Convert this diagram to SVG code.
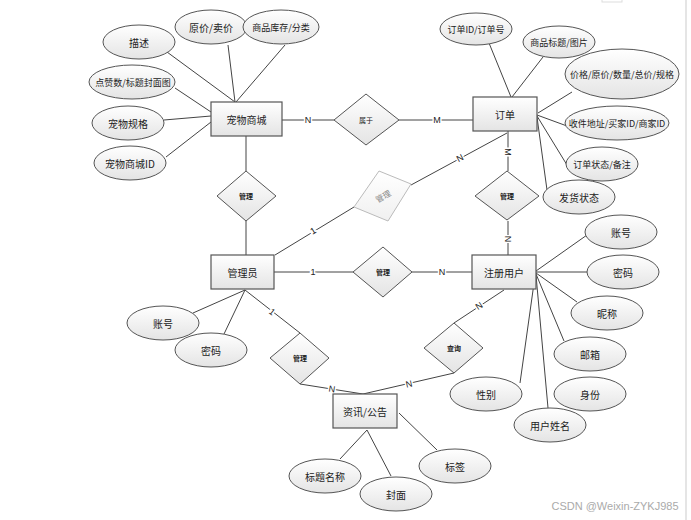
<svg xmlns="http://www.w3.org/2000/svg" width="691" height="520" viewBox="0 0 691 520">
<defs>
<linearGradient id="gb" x1="0" y1="0" x2="0" y2="1"><stop offset="0" stop-color="#ffffff"/><stop offset="1" stop-color="#e4e4e4"/></linearGradient>
<linearGradient id="gg" x1="0" y1="0" x2="0" y2="1"><stop offset="0" stop-color="#ffffff"/><stop offset="1" stop-color="#f0f0f0"/></linearGradient>
<style>
text{font-family:"Noto Sans CJK SC","Liberation Sans",sans-serif;fill:#222;text-anchor:middle;dominant-baseline:central}
.box{fill:url(#gb);stroke:#555;stroke-width:1.2}
.ell{fill:url(#gb);stroke:#555;stroke-width:1}
.dia{fill:url(#gb);stroke:#555;stroke-width:1}
.t{font-size:10px}
.a{font-size:10px}
.s{font-size:9px}
.d{font-size:7px;font-weight:bold}
.lbl{font-size:9px;font-family:"Liberation Sans",sans-serif;paint-order:stroke;stroke:#fff;stroke-width:3px}
#connectors line,#connectors polyline{stroke:#444;stroke-width:1;fill:none}
</style>
</defs>
<rect width="691" height="520" fill="#fff"/>
<line x1="686" y1="0" x2="686" y2="520" stroke="#ddd" stroke-width="1.5"/>
<rect x="602" y="-2" width="20" height="4" fill="none" stroke="#ddd"/>
<g id="connectors">
<line x1="167" y1="52" x2="235" y2="102"/>
<line x1="228" y1="45" x2="235" y2="102"/>
<line x1="285" y1="45" x2="236" y2="102"/>
<line x1="175" y1="88" x2="211" y2="112"/>
<line x1="164" y1="120" x2="211" y2="116"/>
<line x1="166" y1="157" x2="211" y2="122"/>
<line x1="282" y1="120" x2="334" y2="120"/>
<line x1="399" y1="120" x2="473" y2="120"/>
<line x1="489" y1="43" x2="511" y2="97"/>
<line x1="543" y1="57" x2="512" y2="97"/>
<line x1="572" y1="92" x2="538" y2="113"/>
<line x1="537" y1="115" x2="567" y2="126"/>
<line x1="537" y1="116" x2="567" y2="165"/>
<line x1="537" y1="117" x2="547" y2="190"/>
<line x1="508" y1="131" x2="508" y2="171"/>
<line x1="508" y1="221" x2="508" y2="255"/>
<line x1="507" y1="133" x2="411" y2="185"/>
<line x1="275" y1="255" x2="354" y2="207"/>
<line x1="246" y1="136" x2="246" y2="171"/>
<line x1="246" y1="221" x2="246" y2="255"/>
<line x1="274" y1="272" x2="353" y2="272"/>
<line x1="412" y1="272" x2="472" y2="272"/>
<line x1="193" y1="313" x2="245" y2="290"/>
<line x1="224" y1="334" x2="245" y2="290"/>
<line x1="245" y1="290" x2="300" y2="333"/>
<polyline points="300,384 363,394 454,373"/>
<line x1="504" y1="290" x2="454" y2="323"/>
<line x1="536" y1="271" x2="587" y2="235"/>
<line x1="536" y1="272" x2="587" y2="272"/>
<line x1="536" y1="273" x2="577" y2="302"/>
<line x1="536" y1="274" x2="564" y2="341"/>
<line x1="536" y1="275" x2="548" y2="408"/>
<line x1="535" y1="276" x2="520" y2="383"/>
<line x1="340" y1="459" x2="367" y2="430"/>
<line x1="391" y1="476" x2="367" y2="430"/>
<line x1="437" y1="450" x2="399" y2="413"/>
<text class="lbl" x="308" y="120">N</text>
<text class="lbl" x="437" y="120">M</text>
<text class="lbl" x="508" y="152" transform="rotate(90 508 152)">M</text>
<text class="lbl" x="508" y="239" transform="rotate(90 508 239)">N</text>
<text class="lbl" x="460" y="158" transform="rotate(-28 460 158)">N</text>
<text class="lbl" x="313" y="231" transform="rotate(-31 313 231)">1</text>
<text class="lbl" x="313" y="272">1</text>
<text class="lbl" x="442" y="272">N</text>
<text class="lbl" x="272" y="312" transform="rotate(38 272 312)">1</text>
<text class="lbl" x="332" y="389" transform="rotate(9 332 389)">N</text>
<text class="lbl" x="409" y="384" transform="rotate(-13 409 384)">N</text>
<text class="lbl" x="479" y="306" transform="rotate(-33 479 306)">N</text>
</g>
<g id="pet-mall"><rect class="box" x="211" y="102" width="71" height="34"/><text class="t" x="246.5" y="119">宠物商城</text></g>
<g id="order"><rect class="box" x="473" y="97" width="64" height="34"/><text class="t" x="505" y="114">订单</text></g>
<g id="admin"><rect class="box" x="211" y="255" width="63" height="34"/><text class="t" x="242.5" y="272">管理员</text></g>
<g id="user"><rect class="box" x="472" y="255" width="64" height="34"/><text class="t" x="504" y="272">注册用户</text></g>
<g id="news"><rect class="box" x="333" y="394" width="64" height="34"/><text class="t" x="365" y="411">资讯/公告</text></g>
<g id="rel-belong"><polygon class="dia" points="334,120 366,94 399,120 366,145"/><text class="d" style="font-weight:normal" x="366" y="120">属于</text></g>
<g id="rel-manage-mall"><polygon class="dia" points="217,196 246,171 276,196 246,221"/><text class="d" x="246" y="196">管理</text></g>
<g id="rel-manage-order"><polygon points="379,171 411,184 388,221 354,207" fill="url(#gg)" stroke="#bbb" stroke-width="1"/><text x="383" y="196" style="font-size:8px;fill:#888" transform="rotate(-30 383 196)">管理</text></g>
<g id="rel-manage-user"><polygon class="dia" points="353,272 383,247 412,272 383,297"/><text class="d" x="383" y="272">管理</text></g>
<g id="rel-order-user"><polygon class="dia" points="475,196 507,171 539,196 507,220"/><text class="d" x="507" y="196">管理</text></g>
<g id="rel-manage-news"><polygon class="dia" points="270,358 300,333 329,358 300,384"/><text class="d" x="300" y="358">管理</text></g>
<g id="rel-query"><polygon class="dia" points="424,348 454,323 483,348 454,373"/><text class="d" x="454" y="348">查询</text></g>
<g id="attr-desc"><ellipse class="ell" cx="139" cy="42" rx="36" ry="17"/><text class="a" x="139" y="42">描述</text></g>
<g id="attr-price"><ellipse class="ell" cx="211" cy="27" rx="36" ry="17"/><text class="a" x="211" y="27">原价/卖价</text></g>
<g id="attr-stock"><ellipse class="ell" cx="281" cy="27" rx="38" ry="17"/><text class="s" x="281" y="27">商品库存/分类</text></g>
<g id="attr-likes"><ellipse class="ell" cx="132" cy="82" rx="43" ry="17"/><text class="s" x="133" y="82">点赞数/标题封面图</text></g>
<g id="attr-spec"><ellipse class="ell" cx="128" cy="123" rx="36" ry="17"/><text class="a" x="128" y="123">宠物规格</text></g>
<g id="attr-mallid"><ellipse class="ell" cx="130" cy="163" rx="36" ry="17"/><text class="a" x="130" y="163">宠物商城ID</text></g>
<g id="attr-orderid"><ellipse class="ell" cx="476" cy="29" rx="36" ry="16"/><text class="s" x="476" y="29">订单ID/订单号</text></g>
<g id="attr-title"><ellipse class="ell" cx="559" cy="42" rx="36" ry="16"/><text class="s" x="559" y="42">商品标题/图片</text></g>
<g id="attr-prices"><ellipse class="ell" cx="622" cy="74" rx="57" ry="25"/><text class="s" x="622" y="74">价格/原价/数量/总价/规格</text></g>
<g id="attr-address"><ellipse class="ell" cx="617" cy="123" rx="52" ry="17"/><text class="s" x="617" y="123">收件地址/买家ID/商家ID</text></g>
<g id="attr-status"><ellipse class="ell" cx="602" cy="164" rx="36" ry="17"/><text class="s" x="602" y="164">订单状态/备注</text></g>
<g id="attr-ship"><ellipse class="ell" cx="579" cy="197" rx="36" ry="17"/><text class="a" x="579" y="197">发货状态</text></g>
<g id="attr-admin-acc"><ellipse class="ell" cx="163" cy="323" rx="36" ry="17"/><text class="a" x="163" y="323">账号</text></g>
<g id="attr-admin-pwd"><ellipse class="ell" cx="211" cy="350" rx="36" ry="17"/><text class="a" x="211" y="350">密码</text></g>
<g id="attr-user-acc"><ellipse class="ell" cx="621" cy="232" rx="36" ry="17"/><text class="a" x="621" y="232">账号</text></g>
<g id="attr-user-pwd"><ellipse class="ell" cx="623" cy="272" rx="36" ry="17"/><text class="a" x="623" y="272">密码</text></g>
<g id="attr-nick"><ellipse class="ell" cx="607" cy="313" rx="36" ry="17"/><text class="a" x="607" y="313">昵称</text></g>
<g id="attr-mail"><ellipse class="ell" cx="590" cy="354" rx="36" ry="17"/><text class="a" x="590" y="354">邮箱</text></g>
<g id="attr-role"><ellipse class="ell" cx="590" cy="394" rx="36" ry="17"/><text class="a" x="590" y="394">身份</text></g>
<g id="attr-name"><ellipse class="ell" cx="550" cy="425" rx="36" ry="17"/><text class="a" x="550" y="425">用户姓名</text></g>
<g id="attr-sex"><ellipse class="ell" cx="486" cy="394" rx="36" ry="17"/><text class="a" x="486" y="394">性别</text></g>
<g id="attr-newstitle"><ellipse class="ell" cx="325" cy="476" rx="36" ry="17"/><text class="a" x="325" y="476">标题名称</text></g>
<g id="attr-cover"><ellipse class="ell" cx="396" cy="494" rx="36" ry="17"/><text class="a" x="396" y="494">封面</text></g>
<g id="attr-tag"><ellipse class="ell" cx="455" cy="466" rx="36" ry="17"/><text class="a" x="455" y="466">标签</text></g>
<text x="615" y="506" style="font-size:11px;fill:#aaa;font-family:'Liberation Sans',sans-serif">CSDN @Weixin-ZYKJ985</text>
</svg>
